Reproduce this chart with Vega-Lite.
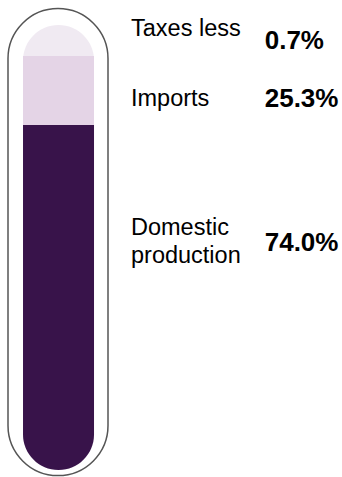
{
  "$schema": "https://vega.github.io/schema/vega-lite/v6.json",
  "width": 342,
  "height": 477,
  "autosize": {"type": "fit", "contains": "padding"},
  "padding": 0,
  "background": "white",
  "config": {"view": {"stroke": null}},
  "data": {
    "values": [
      {"segment": "Taxes less", "label": "Taxes less", "pct": "0.7%", "lo": 93.03, "hi": 100, "labelY": 99.1, "pctY": 96.4},
      {"segment": "Imports", "label": "Imports", "pct": "25.3%", "lo": 77.53, "hi": 93.03, "labelY": 83.4, "pctY": 83.4},
      {"segment": "Domestic production", "label": "Domestic\nproduction", "pct": "74.0%", "lo": 0, "hi": 77.53, "labelY": 54.4, "pctY": 51.0}
    ]
  },
  "encoding": {
    "y": {"type": "quantitative", "scale": {"domain": [-1.573, 105.62], "nice": false, "zero": false}, "axis": null}
  },
  "layer": [
    {
      "transform": [{"filter": "datum.segment === 'Taxes less'"}],
      "mark": {"type": "rect", "fill": "none", "stroke": "#555555", "strokeWidth": 1.5, "cornerRadius": 50},
      "encoding": {
        "x": {"datum": 2.34, "type": "quantitative", "scale": {"domain": [0, 100], "nice": false, "zero": false}, "axis": null},
        "x2": {"datum": 31.58},
        "y": {"datum": 103.7, "type": "quantitative"},
        "y2": {"datum": -1.25}
      }
    },
    {
      "transform": [{"filter": "datum.segment === 'Taxes less'"}],
      "mark": {"type": "rect", "fill": "#f0eaf2", "cornerRadius": 35.5},
      "encoding": {
        "x": {"datum": 6.73, "type": "quantitative"},
        "x2": {"datum": 27.49},
        "y": {"field": "hi", "type": "quantitative"},
        "y2": {"datum": 0}
      }
    },
    {
      "transform": [{"filter": "datum.segment === 'Imports'"}],
      "mark": {"type": "rect", "fill": "#e4d4e6"},
      "encoding": {
        "x": {"datum": 6.73, "type": "quantitative"},
        "x2": {"datum": 27.49},
        "y": {"field": "hi", "type": "quantitative"},
        "y2": {"field": "lo"}
      }
    },
    {
      "transform": [{"filter": "datum.segment === 'Domestic production'"}],
      "mark": {"type": "rect", "fill": "#38134a", "cornerRadiusBottomLeft": 35.5, "cornerRadiusBottomRight": 35.5},
      "encoding": {
        "x": {"datum": 6.73, "type": "quantitative"},
        "x2": {"datum": 27.49},
        "y": {"field": "hi", "type": "quantitative"},
        "y2": {"field": "lo"}
      }
    },
    {
      "mark": {"type": "text", "align": "left", "baseline": "middle", "font": "Liberation Sans", "fontSize": 23.5, "lineHeight": 28, "lineBreak": "\n", "color": "#000000"},
      "encoding": {
        "x": {"datum": 38.3, "type": "quantitative"},
        "y": {"field": "labelY", "type": "quantitative"},
        "text": {"field": "label"}
      }
    },
    {
      "mark": {"type": "text", "align": "left", "baseline": "middle", "font": "Liberation Sans", "fontSize": 26, "fontWeight": "bold", "color": "#000000"},
      "encoding": {
        "x": {"datum": 77.4, "type": "quantitative"},
        "y": {"field": "pctY", "type": "quantitative"},
        "text": {"field": "pct"}
      }
    }
  ]
}
